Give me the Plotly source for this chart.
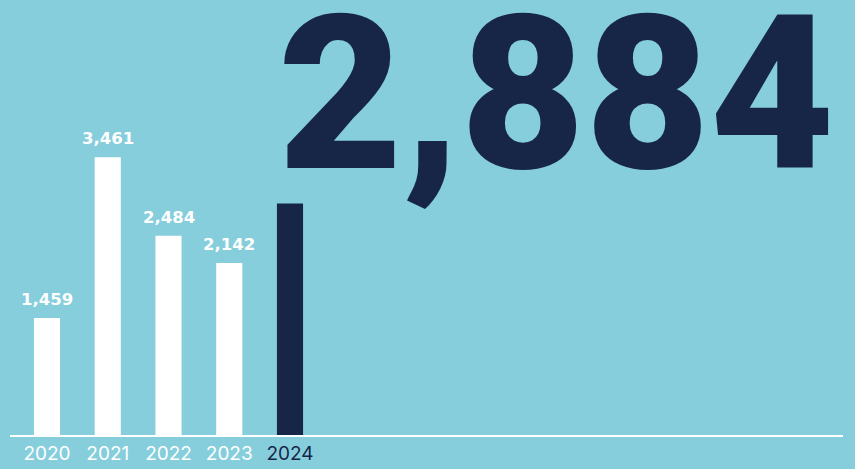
import plotly.graph_objects as go

years = ["2020", "2021", "2022", "2023", "2024"]
values = [1459, 3461, 2484, 2142, 2884]
value_labels = ["1,459", "3,461", "2,484", "2,142", ""]
headline = "2,884"

BG = "#86CEDC"
NAVY = "#172647"
WHITE = "#FFFFFF"

xs = list(range(len(years)))
bar_colors = [WHITE] * (len(years) - 1) + [NAVY]

fig = go.Figure()
fig.add_trace(go.Bar(
    x=xs, y=values, width=0.43,
    marker=dict(color=bar_colors, line=dict(width=0)),
    hoverinfo="skip",
))

for x, v, lab in zip(xs, values, value_labels):
    if lab:
        fig.add_annotation(
            x=x, y=v, xref="x", yref="y", text=lab, showarrow=False,
            yanchor="bottom", yshift=7,
            font=dict(family="DejaVu Sans", size=16.5, color=WHITE, weight="bold"),
        )

ticktext = [f"<span style='color:{WHITE}'>{y}</span>" for y in years[:-1]]
ticktext.append(f"<span style='color:{NAVY}'>{years[-1]}</span>")

fig.add_annotation(
    x=(276 - 10) / 833, xref="paper", y=1.076, yref="paper",
    xanchor="left", yanchor="top", text=headline, showarrow=False,
    font=dict(family="Roboto", size=215, color=NAVY, weight=900),
)

fig.update_layout(
    width=855, height=469,
    margin=dict(l=10, r=12, t=0, b=34),
    paper_bgcolor=BG, plot_bgcolor=BG,
    showlegend=False,
    xaxis=dict(
        range=[-0.609, 13.103], tickvals=xs, ticktext=ticktext,
        showgrid=False, zeroline=False, showline=True,
        linecolor=WHITE, linewidth=2, ticks="",
        tickfont=dict(family="Inter", size=19, color=WHITE),
        fixedrange=True,
    ),
    yaxis=dict(range=[0, 5420], visible=False, fixedrange=True),
)

fig.write_html("out.html")
